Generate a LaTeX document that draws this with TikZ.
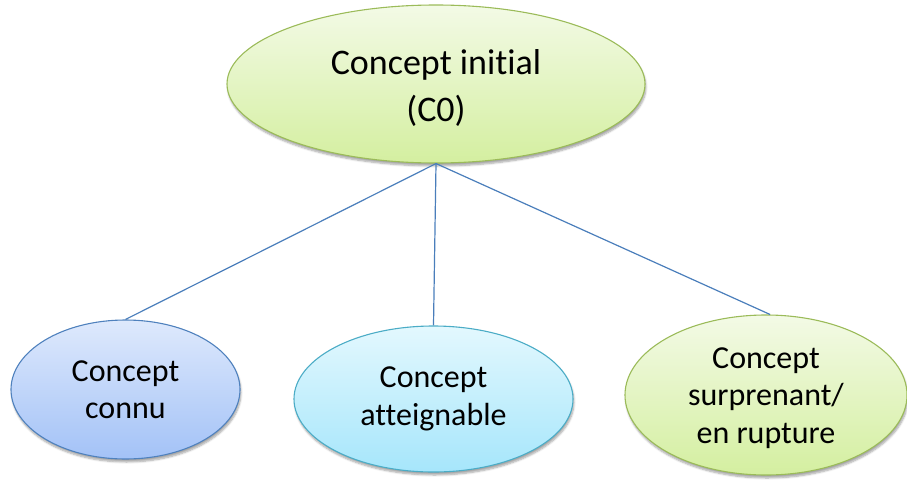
\documentclass[tikz,border=0pt]{standalone}
\usepackage{fontspec}
\setmainfont[Ligatures=NoCommon]{Carlito}
\usetikzlibrary{shapes.geometric,shadows.blur}
\tikzset{
  bubble/.style={ellipse, inner sep=0pt, align=center, line width=1.1pt,
    blur shadow={shadow xshift=1pt, shadow yshift=-3pt, shadow blur steps=6, shadow opacity=35}},
  greenbub/.style={bubble, draw=cgreenline, top color=cgreentop, bottom color=cgreenbot},
  bluebub/.style={bubble, draw=cblueline, top color=cbluetop, bottom color=cbluebot},
  cyanbub/.style={bubble, draw=ccyanline, top color=ccyantop, bottom color=ccyanbot},
  link/.style={draw=clink, line width=1.2pt},
  bigtext/.style={font=\fontsize{36}{47}\selectfont},
  smalltext/.style={font=\fontsize{32}{37.5}\selectfont},
}
\definecolor{cgreenline}{HTML}{9BBB59}
\definecolor{cgreentop}{HTML}{F3FAE6}
\definecolor{cgreenbot}{HTML}{D4EFA0}
\definecolor{cblueline}{HTML}{4F81BD}
\definecolor{cbluetop}{HTML}{DEE9FC}
\definecolor{cbluebot}{HTML}{A3C2F7}
\definecolor{ccyanline}{HTML}{4BACC6}
\definecolor{ccyantop}{HTML}{E3F8FE}
\definecolor{ccyanbot}{HTML}{A6E6FB}
\definecolor{clink}{HTML}{4A7EBB}
\begin{document}
\begin{tikzpicture}[x=1pt,y=-1pt]
  \useasboundingbox (0,0) rectangle (907,479);
  % root concept
  \node[greenbub, minimum width=418pt, minimum height=158pt] (c0) at (436,84) {};
  \node[bigtext, align=center] (c0text) at (436,88) {Concept initial\\(C0)};
  % derived concepts
  \node[bluebub, smalltext, minimum width=229pt, minimum height=139pt] (known) at (125.5,389.5)
    {Concept\\connu};
  \node[cyanbub, smalltext, minimum width=279pt, minimum height=146pt] (reach) at (433.5,399)
    {Concept\\atteignable};
  \node[greenbub, minimum width=282pt, minimum height=160pt] (break) at (766,395) {};
  \node[smalltext, align=center] (breaktext) at (766,398) {Concept\\surprenant/\\en rupture};
  % connectors
  \coordinate (hub) at (c0.south);
  \draw[link] (hub) -- (known.north);
  \draw[link] (hub) -- (reach.north);
  \draw[link] (hub) -- ([xshift=4pt]break.north);
\end{tikzpicture}
\end{document}
